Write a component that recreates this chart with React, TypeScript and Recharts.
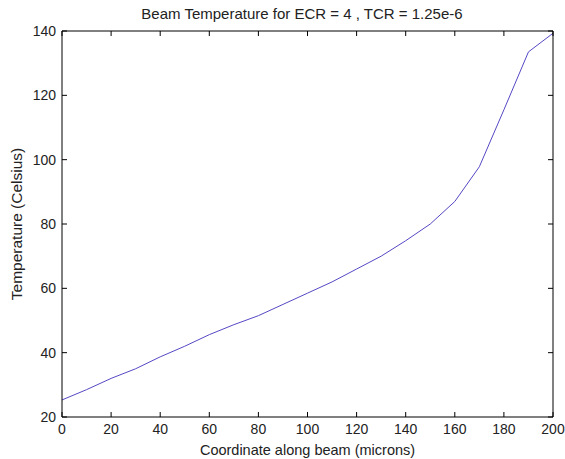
import { LineChart, Line, XAxis, YAxis } from "recharts";

const positions = [0, 10, 20, 30, 40, 50, 60, 70, 80, 90, 100, 110, 120, 130, 140, 150, 160, 170, 180, 190, 200];
const temperatures = [25.3, 28.5, 32, 35, 38.7, 42, 45.6, 48.7, 51.5, 55, 58.5, 62, 66, 70, 74.8, 80, 87, 97.8, 115.5, 133.5, 139.3];
const xTicks = [0, 20, 40, 60, 80, 100, 120, 140, 160, 180, 200];
const yTicks = [20, 40, 60, 80, 100, 120, 140];

const font = "'Liberation Sans', Arial, sans-serif";
const ink = "#222";
const TICK = 5;

// bottom axis: tick lines drawn upward into the plot, label below
function BottomTick(props: any) {
  const { x, y, payload } = props;
  const axisY = y - 7;
  return (
    <g>
      <line x1={x} y1={axisY} x2={x} y2={axisY - TICK} stroke="#000" />
      <text x={x} y={y} dy="0.71em" textAnchor="middle" fontSize={14} fontFamily={font} fill={ink}>
        {payload.value}
      </text>
    </g>
  );
}

function LeftTick(props: any) {
  const { x, y, payload } = props;
  const axisX = x + 6;
  return (
    <g>
      <line x1={axisX} y1={y} x2={axisX + TICK} y2={y} stroke="#000" />
      <text x={x} y={y} dy="0.355em" textAnchor="end" fontSize={14} fontFamily={font} fill={ink}>
        {payload.value}
      </text>
    </g>
  );
}

function TopTick(props: any) {
  const { x, y } = props;
  return <line x1={x} y1={y} x2={x} y2={y + TICK} stroke="#000" />;
}

function RightTick(props: any) {
  const { x, y } = props;
  return <line x1={x} y1={y} x2={x - TICK} y2={y} stroke="#000" />;
}

export default function App() {
  const data = positions.map((x, i) => ({ x, t: temperatures[i] }));

  return (
    <div style={{ position: "absolute", left: 0, top: 0, width: 565, height: 459, background: "#fff" }}>
      <LineChart width={565} height={459} data={data} margin={{ top: 30, right: 11, bottom: 0, left: 0 }}>
        <text x={302} y={19} textAnchor="middle" style={{ fontSize: 15, fontFamily: font, fill: ink }}>
          Beam Temperature for ECR = 4 , TCR = 1.25e-6
        </text>
        <XAxis
          dataKey="x"
          type="number"
          domain={[0, 200]}
          ticks={xTicks}
          height={42}
          tickSize={0}
          tickMargin={7}
          tickLine={false}
          stroke="#000"
          tick={<BottomTick />}
          interval={0}
          label={{ value: "Coordinate along beam (microns)", position: "insideBottom", offset: 4, style: { fontSize: 14.5, fontFamily: font, fill: ink } }}
        />
        <XAxis
          xAxisId="top"
          dataKey="x"
          type="number"
          orientation="top"
          domain={[0, 200]}
          ticks={xTicks}
          height={1}
          tickSize={0}
          tickMargin={0}
          tickLine={false}
          stroke="#000"
          tick={<TopTick />}
          interval={0}
        />
        <YAxis
          type="number"
          domain={[20, 140]}
          ticks={yTicks}
          width={62}
          tickSize={0}
          tickMargin={6}
          tickLine={false}
          stroke="#000"
          tick={<LeftTick />}
          interval={0}
          label={{ value: "Temperature (Celsius)", angle: -90, position: "insideLeft", offset: 16, style: { textAnchor: "middle", fontSize: 15.5, fontFamily: font, fill: ink } }}
        />
        <YAxis
          yAxisId="right"
          type="number"
          orientation="right"
          domain={[20, 140]}
          ticks={yTicks}
          width={1}
          tickSize={0}
          tickMargin={0}
          tickLine={false}
          stroke="#000"
          tick={<RightTick />}
          interval={0}
        />
        <Line
          xAxisId="top"
          yAxisId="right"
          type="linear"
          dataKey="t"
          stroke="none"
          dot={false}
          isAnimationActive={false}
        />
        <Line
          type="linear"
          dataKey="t"
          stroke="#5548c4"
          strokeWidth={1}
          dot={false}
          isAnimationActive={false}
        />
      </LineChart>
    </div>
  );
}
